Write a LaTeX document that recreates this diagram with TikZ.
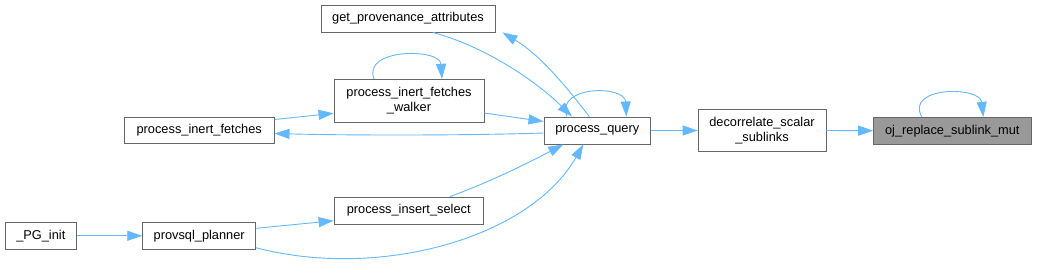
\documentclass[tikz,border=0pt]{standalone}
\usepackage{fontspec}
\setmainfont{Liberation Sans}
\usetikzlibrary{arrows.meta}
\definecolor{edgeblue}{HTML}{63B8FF}
\definecolor{boxgray}{HTML}{666666}
\definecolor{curfill}{HTML}{999999}
\begin{document}
\begin{tikzpicture}[x=1pt,y=-1pt,
  fn/.style={draw=boxgray,line width=0.9pt,fill=white,inner sep=0pt,align=center,
    font=\fontsize{12.8}{15}\selectfont},
  cur/.style={fn,fill=curfill},
  call/.style={draw=edgeblue,line width=0.9pt,-{Triangle[length=15pt,width=10pt]}}]
\useasboundingbox[fill=white] (0,0) rectangle (1037,265);
% nodes
\node[fn,minimum width=174pt,minimum height=27pt] (getprov) at (408,18.5) {get\_provenance\_attributes};
\node[fn,minimum width=150pt,minimum height=43.4pt] (walker) at (409,101) {process\_inert\_fetches\\\_walker};
\node[fn,minimum width=106.7pt,minimum height=27pt] (pq) at (597.3,130.5) {process\_query};
\node[fn,minimum width=128pt,minimum height=42.4pt] (decor) at (762,130.5) {decorrelate\_scalar\\\_sublinks};
\node[cur,minimum width=157.3pt,minimum height=26.7pt] (oj) at (952.3,130.7) {oj\_replace\_sublink\_mut};
\node[fn,minimum width=149.7pt,minimum height=26.4pt] (pif) at (199.2,130.5) {process\_inert\_fetches};
\node[fn,minimum width=149.3pt,minimum height=27pt] (pis) at (408.7,210.5) {process\_insert\_select};
\node[fn,minimum width=71.7pt,minimum height=27pt] (pginit) at (40.8,235.8) {\_PG\_init};
\node[fn,minimum width=113pt,minimum height=27pt] (planner) at (199.2,235.8) {provsql\_planner};
% edges
\draw[call] (pginit.east) -- (planner.west);
\draw[call] ([yshift=7.5pt]planner.east) -- ([yshift=-10.2pt]pis.west);
\draw[call] ([yshift=-12pt]planner.east) .. controls (380,280) and (530,238) .. ([xshift=-14pt]pq.south);
\draw[call] ([xshift=41.3pt]pis.north) .. controls (490,182) and (530,162) .. ([xshift=-34pt]pq.south);
\draw[call] ([yshift=11pt]pif.east) -- ([yshift=-12.3pt]walker.west);
\draw[call] ([yshift=-2.5pt]pq.west) .. controls (470,135.5) and (350,135.5) .. ([yshift=-3pt]pif.east);
\draw[call] ([yshift=-12pt]walker.east) -- ([yshift=9pt]pq.west);
\draw[call] ([xshift=-35pt]walker.north) .. controls (362,48) and (440,48) .. ([xshift=33pt]walker.north);
\draw[call] ([xshift=25pt]getprov.south) .. controls (490,48) and (540,85) .. ([xshift=-25.3pt]pq.north);
\draw[call] ([xshift=-8pt]pq.north) .. controls (565,85) and (540,55) .. ([xshift=7pt]getprov.south east);
\draw[call] ([xshift=-30.3pt]pq.north) .. controls (555,85) and (625,85) .. ([xshift=29pt]pq.north);
\draw[call] (pq.east) -- (decor.west);
\draw[call] (decor.east) -- (oj.west);
\draw[call] ([xshift=-30.6pt]oj.north) .. controls (905,86) and (980,86) .. ([xshift=31pt]oj.north);
\end{tikzpicture}
\end{document}
